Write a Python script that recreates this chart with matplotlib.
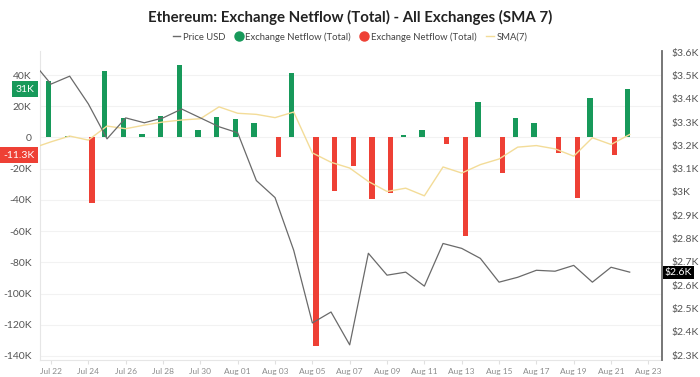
import numpy as np
import pandas as pd
import matplotlib
matplotlib.use('Agg')
import matplotlib.pyplot as plt
import matplotlib.dates as mdates
from matplotlib.lines import Line2D

# daten (Tage ab 21. Juli 2024)
days = pd.date_range('2024-07-21', '2024-08-22', freq='D')

# netflow in tausend ETH, ab 22. Juli
netflow = [36.3, 1.0, -42.0, 42.8, 12.7, 2.4, 13.8, 46.4, 4.5, 13.1, 11.6,
           9.0, -12.5, 41.3, -133.5, -34.0, -18.5, -39.5, -35.3, 1.3, 5.0,
           -4.0, -63.2, 22.8, -22.8, 12.7, 9.0, -9.9, -39.1, 25.4, -11.3, 31.0]

# preis in tausend USD, ab 21. Juli
price = [3.56, 3.463, 3.497, 3.378, 3.228, 3.318, 3.297, 3.318, 3.356, 3.318,
         3.28, 3.254, 3.049, 2.976, 2.75, 2.438, 2.485, 2.344, 2.737, 2.643,
         2.656, 2.596, 2.779, 2.758, 2.715, 2.613, 2.634, 2.664, 2.66, 2.685,
         2.613, 2.677, 2.656]

# sma(7) in tausend, ab 21. Juli
sma7 = [-6.9, -2.8, 0.9, -1.7, 7.3, 5.6, 7.9, 9.9, 11.2, 12.0, 19.6, 15.5,
        14.8, 12.7, 16.3, -9.9, -15.9, -19.6, -28.2, -34.6, -32.5, -37.4,
        -18.9, -22.8, -17.4, -13.8, -6.2, -5.2, -7.3, -12.0, -0.2, -4.5, 1.9]

left_ticks = [40, 20, 0, -20, -40, -60, -80, -100, -120, -140]
right_ticks = [3.6, 3.5, 3.4, 3.3, 3.2, 3.1, 3.0, 2.9, 2.8, 2.7, 2.6, 2.5, 2.4, 2.3]

GREEN = '#17995a'
RED = '#ee4035'
SMA_COL = '#f3dc98'
PRICE_COL = '#6a6a6a'
TXT = '#555555'
FONT = ['Lato', 'DejaVu Sans']


def fmt_k(v):
    if v == 0:
        return '0'
    return f'{v:g}K'


def fmt_usd(v):
    return f'${v:g}K'


def main():
    fig = plt.figure(figsize=(7, 3.77), dpi=100)
    ax = fig.add_axes([40 / 700, 1 - 360 / 377, 622 / 700, 309 / 377])
    ax2 = ax.twinx()

    x_all = mdates.date2num(days)
    x_bar = x_all[1:]
    nf = np.array(netflow)
    pos = nf > 0
    neg = nf < 0

    ax.bar(x_bar[pos] - 0.12, nf[pos], width=0.29, color=GREEN, zorder=2)
    ax.bar(x_bar[neg] + 0.19, nf[neg], width=0.29, color=RED, zorder=2)
    ax.plot(x_all, sma7, color=SMA_COL, lw=1.0, zorder=3)
    ax2.plot(x_all, price, color=PRICE_COL, lw=0.9, zorder=3)

    # achsen
    x0 = mdates.date2num(pd.Timestamp('2024-07-22'))
    ax.set_xlim(x0 - 0.59, x0 + 32.73)
    ax.set_ylim(-142.6, 55.4)
    ax2.set_ylim(2.279, 3.605)

    ax.set_yticks(left_ticks)
    ax.set_yticklabels([fmt_k(v) for v in left_ticks], family=FONT,
                       fontsize=7.5, color=TXT)
    ax2.set_yticks(right_ticks)
    ax2.set_yticklabels([fmt_usd(v) for v in right_ticks], family=FONT,
                        fontsize=7.5, color=TXT)
    ax.tick_params(axis='y', length=0, pad=6)
    ax2.tick_params(axis='y', length=0, pad=7)

    xt = mdates.date2num(pd.date_range('2024-07-22', '2024-08-23', freq='2D'))
    ax.set_xticks(xt)
    ax.xaxis.set_major_formatter(mdates.DateFormatter('%b %d'))
    for lab in ax.get_xticklabels():
        lab.set_family(FONT)
        lab.set_fontsize(6)
        lab.set_color('#8c8c8c')
    ax.tick_params(axis='x', length=3, color='#e0e0e0', pad=3)

    ax.grid(axis='y', color='#f2f2f2', lw=0.8, zorder=0)
    ax.set_axisbelow(True)
    for s in ['top', 'right']:
        ax.spines[s].set_visible(False)
    ax.spines['left'].set_color('#e6e6e6')
    ax.spines['bottom'].set_color('#e6e6e6')
    for s in ['top', 'left', 'bottom']:
        ax2.spines[s].set_visible(False)
    ax2.spines['right'].set_color('#6b6b6b')
    ax2.spines['right'].set_linewidth(1.3)

    # letzte werte
    ax.annotate('31K', xy=(0, netflow[-1]), xycoords=('axes fraction', 'data'),
                xytext=(-4, 0), textcoords='offset points', ha='right',
                va='center', fontsize=7.5, color='white', family=FONT,
                bbox=dict(boxstyle='square,pad=0.3', fc=GREEN, ec='none'))
    ax.annotate('-11.3K', xy=(0, netflow[-2]), xycoords=('axes fraction', 'data'),
                xytext=(-4, 0), textcoords='offset points', ha='right',
                va='center', fontsize=7.5, color='white', family=FONT,
                bbox=dict(boxstyle='square,pad=0.3', fc=RED, ec='none'))
    ax2.annotate('$2.6K', xy=(1, price[-1]), xycoords=('axes fraction', 'data'),
                 xytext=(2, 0), textcoords='offset points', ha='left',
                 va='center', fontsize=7.5, color='white', family=FONT,
                 bbox=dict(boxstyle='square,pad=0.2', fc='black', ec='none'))

    # titel und legende
    fig.text(0.5, 1 - 17 / 377, 'Ethereum: Exchange Netflow (Total) - All Exchanges (SMA 7)',
             ha='center', va='center', fontsize=10.8, fontweight='bold',
             family=FONT, color='#222222')
    handles = [
        Line2D([], [], color=PRICE_COL, lw=1),
        Line2D([], [], marker='o', ls='none', color=GREEN, markersize=6.5),
        Line2D([], [], marker='o', ls='none', color=RED, markersize=6.5),
        Line2D([], [], color=SMA_COL, lw=1),
    ]
    labels = ['Price USD', 'Exchange Netflow (Total)', 'Exchange Netflow (Total)', 'SMA(7)']
    fig.legend(handles, labels, loc='center', bbox_to_anchor=(0.5, 1 - 37 / 377),
               ncol=4, frameon=False, handlelength=0.8, handletextpad=0.3,
               columnspacing=1.0, prop={'family': FONT, 'size': 6.8},
               labelcolor='#444444')

    fig.savefig('out.png', dpi=100)


if __name__ == '__main__':
    main()
